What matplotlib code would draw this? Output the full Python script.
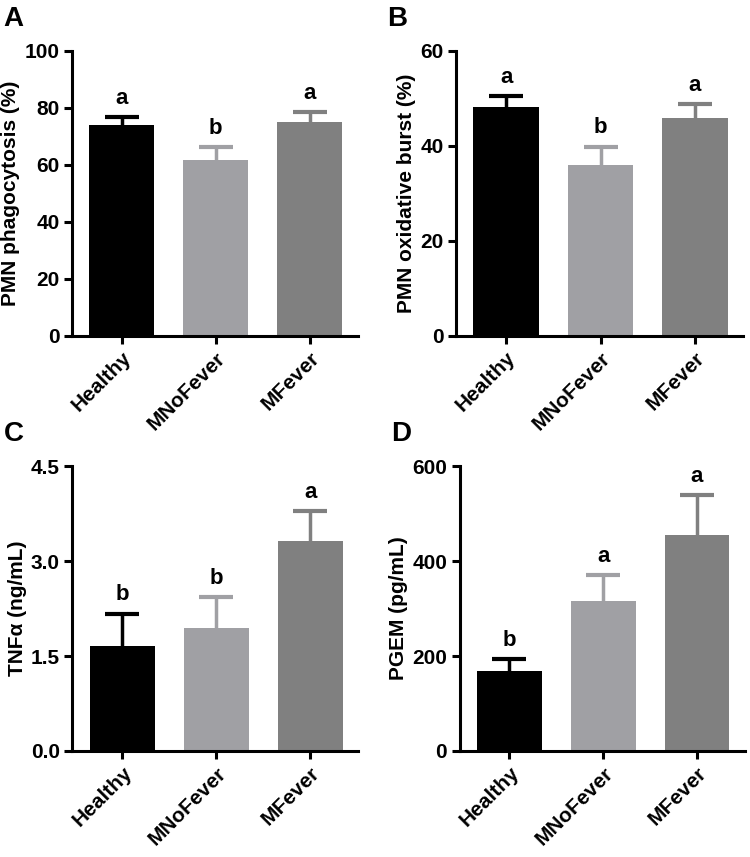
import matplotlib.pyplot as plt
import numpy as np

plt.rcParams['font.family'] = ['Liberation Sans', 'DejaVu Sans']
plt.rcParams['font.weight'] = 'bold'

groups = ['Healthy', 'MNoFever', 'MFever']
colors = ['#000000', '#a0a0a4', '#808080']

phago = [73.9, 61.8, 74.8]
phago_err = [2.8, 4.3, 3.7]
phago_sig = ['a', 'b', 'a']

burst = [48.1, 35.9, 45.9]
burst_err = [2.3, 3.9, 2.9]
burst_sig = ['a', 'b', 'a']

tnf = [1.66, 1.94, 3.31]
tnf_err = [0.51, 0.49, 0.48]
tnf_sig = ['b', 'b', 'a']

pgem = [168, 315, 454]
pgem_err = [26, 55, 84]
pgem_sig = ['b', 'a', 'a']

fig = plt.figure(figsize=(7.5, 8.57), dpi=100)

panels = [
    ('A', [0.096, 0.608, 0.381, 0.333], phago, phago_err, phago_sig,
     'PMN phagocytosis (%)', 100, [0, 20, 40, 60, 80, 100], None),
    ('B', [0.608, 0.608, 0.383, 0.333], burst, burst_err, burst_sig,
     'PMN oxidative burst (%)', 60, [0, 20, 40, 60], None),
    ('C', [0.0965, 0.1237, 0.381, 0.3325], tnf, tnf_err, tnf_sig,
     'TNFα (ng/mL)', 4.5, [0, 1.5, 3.0, 4.5], '{:.1f}'),
    ('D', [0.613, 0.1237, 0.380, 0.3325], pgem, pgem_err, pgem_sig,
     'PGEM (pg/mL)', 600, [0, 200, 400, 600], None),
]

x = np.arange(len(groups))
for letter, pos, vals, errs, sig, ylab, ymax, yt, fmt in panels:
    ax = fig.add_axes(pos)
    for i in range(len(groups)):
        ax.bar(x[i], vals[i], width=0.69, color=colors[i], zorder=2)
        eb = ax.errorbar(x[i], vals[i], yerr=[[0], [errs[i]]], fmt='none',
                         ecolor=colors[i], elinewidth=2.5, capsize=12,
                         capthick=3, zorder=1)
        # hide the lower cap (it would sit on top of the bar)
        eb[1][0].set_visible(False)
        ax.annotate(sig[i], (x[i], vals[i] + errs[i]), xytext=(0, 6),
                    textcoords='offset points', ha='center', va='bottom',
                    fontsize=16, fontweight='bold')
    ax.set_xlim(-0.53, 2.51)
    ax.set_ylim(0, ymax)
    ax.set_yticks(yt)
    if fmt:
        ax.set_yticklabels([fmt.format(v) for v in yt])
    ax.set_xticks(x)
    ax.set_xticklabels(groups, rotation=45, ha='right', rotation_mode='anchor')
    ax.spines['top'].set_visible(False)
    ax.spines['right'].set_visible(False)
    ax.spines['left'].set_linewidth(2.2)
    ax.spines['bottom'].set_linewidth(2.2)
    ax.tick_params(width=2.2, length=6, labelsize=15, pad=3)
    ax.set_ylabel(ylab, fontsize=15, fontweight='bold', labelpad=3)
    fig.text(pos[0] - 0.092, pos[1] + pos[3] + 0.022, letter,
             fontsize=20, fontweight='bold', va='bottom')

plt.savefig('out.png', dpi=100)
